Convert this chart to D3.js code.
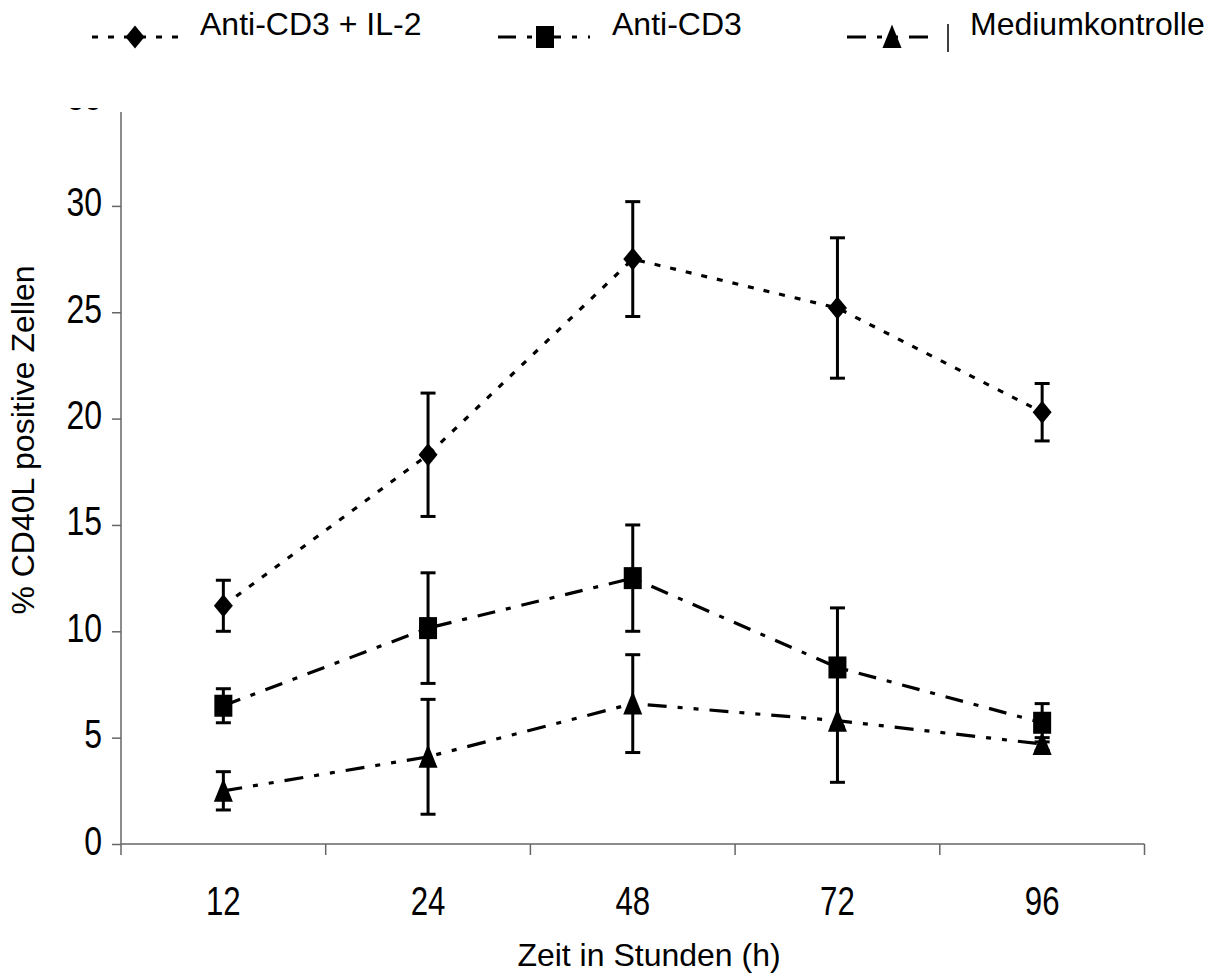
<!DOCTYPE html>
<html>
<head>
<meta charset="utf-8">
<script src="https://cdn.jsdelivr.net/npm/d3@7"></script>
<style>
  body { margin: 0; background: #fff; }
  text { font-family: "Liberation Sans", Arial, sans-serif; fill: #000; }
</style>
</head>
<body>
<div id="chart"></div>
<script>
// Daten
const zeiten = ["12", "24", "48", "72", "96"];
const il2Werte = [11.2, 18.3, 27.5, 25.2, 20.3];
const il2Fehler = [1.2, 2.9, 2.7, 3.3, 1.35];
const cd3Werte = [6.5, 10.15, 12.5, 8.3, 5.7];
const cd3Fehler = [0.8, 2.6, 2.5, 2.8, 0.9];
const mediumWerte = [2.5, 4.1, 6.6, 5.8, 4.7];
const mediumFehler = [0.9, 2.7, 2.3, 2.9, 0.3];
const yTicks = [0, 5, 10, 15, 20, 25, 30, 35];

const serien = [
  { name: "Anti-CD3 + IL-2", werte: il2Werte, fehler: il2Fehler, marker: "diamond", dash: "6,10" },
  { name: "Anti-CD3", werte: cd3Werte, fehler: cd3Fehler, marker: "square", dash: "18,11,5,11" },
  { name: "Mediumkontrolle", werte: mediumWerte, fehler: mediumFehler, marker: "triangle", dash: "19,11,5,11,5,11" }
];

const width = 1213, height = 979;
const left = 121, right = 1144.5, bottom = 844, axisTop = 112;

const svg = d3.select("#chart").append("svg")
  .attr("width", width)
  .attr("height", height);

const x = d3.scaleBand().domain(zeiten).range([left, right]).padding(0);
const y = d3.scaleLinear().domain([0, 35]).range([bottom, bottom - 35 * 21.27]);
const cx = d => x(d) + x.bandwidth() / 2;

// Clip für die abgeschnittene "35"
svg.append("defs").append("clipPath").attr("id", "oben")
  .append("rect").attr("x", 0).attr("y", 108).attr("width", width).attr("height", height);

function condense(sel, f) {
  sel.each(function () {
    const w = this.getComputedTextLength();
    d3.select(this).attr("textLength", w * f).attr("lengthAdjust", "spacingAndGlyphs");
  });
}

// y-Achse
const yAxis = svg.append("g")
  .attr("clip-path", "url(#oben)")
  .append("g")
  .attr("transform", `translate(${left},0)`)
  .call(d3.axisLeft(y).tickValues(yTicks).tickSize(9).tickPadding(10));
yAxis.select(".domain").remove();
yAxis.selectAll(".tick line").attr("stroke", "#666").attr("stroke-width", 1.5);
yAxis.selectAll(".tick text")
  .style("font-size", "40px")
  .attr("dy", "0.25em")
  .call(condense, 0.8);

svg.append("line")
  .attr("x1", left).attr("x2", left)
  .attr("y1", axisTop).attr("y2", bottom)
  .attr("stroke", "#666").attr("stroke-width", 1.5);

// x-Achse
svg.append("line")
  .attr("x1", left).attr("x2", right)
  .attr("y1", bottom).attr("y2", bottom)
  .attr("stroke", "#666").attr("stroke-width", 1.5);

const grenzen = zeiten.map(d => x(d)).concat([right]);
svg.selectAll(".xtick").data(grenzen).enter().append("line")
  .attr("x1", d => d).attr("x2", d => d)
  .attr("y1", bottom).attr("y2", bottom + 11)
  .attr("stroke", "#666").attr("stroke-width", 1.5);

svg.selectAll(".xlabel").data(zeiten).enter().append("text")
  .attr("x", cx)
  .attr("y", 915)
  .attr("text-anchor", "middle")
  .style("font-size", "40px")
  .text(d => d)
  .call(condense, 0.78);

// Achsentitel
svg.append("text")
  .attr("x", 649).attr("y", 966)
  .attr("text-anchor", "middle")
  .style("font-size", "32px")
  .text("Zeit in Stunden (h)");

svg.append("text")
  .attr("transform", "translate(34,440) rotate(-90)")
  .attr("text-anchor", "middle")
  .style("font-size", "32px")
  .text("% CD40L positive Zellen");

function marker(g, typ) {
  if (typ === "diamond") {
    g.append("path").attr("d", "M0,-11.5L9.5,0L0,11.5L-9.5,0Z");
  } else if (typ === "square") {
    g.append("rect").attr("x", -9).attr("y", -11).attr("width", 18).attr("height", 22);
  } else {
    g.append("path").attr("d", "M0,-12.5L9.5,11L-9.5,11Z");
  }
}

const line = d3.line().x(d => cx(d.t)).y(d => y(d.v));

serien.forEach(s => {
  const pts = zeiten.map((t, i) => ({ t, v: s.werte[i], e: s.fehler[i] }));
  const g = svg.append("g");

  // Fehlerbalken
  const eb = g.selectAll(".eb").data(pts).enter().append("g")
    .attr("stroke", "#000").attr("stroke-width", 3);
  eb.append("line")
    .attr("x1", d => cx(d.t)).attr("x2", d => cx(d.t))
    .attr("y1", d => y(d.v - d.e)).attr("y2", d => y(d.v + d.e));
  eb.append("line")
    .attr("x1", d => cx(d.t) - 7.5).attr("x2", d => cx(d.t) + 7.5)
    .attr("y1", d => y(d.v + d.e)).attr("y2", d => y(d.v + d.e));
  eb.append("line")
    .attr("x1", d => cx(d.t) - 7.5).attr("x2", d => cx(d.t) + 7.5)
    .attr("y1", d => y(d.v - d.e)).attr("y2", d => y(d.v - d.e));

  g.append("path").datum(pts)
    .attr("d", line)
    .attr("fill", "none")
    .attr("stroke", "#000")
    .attr("stroke-width", 3.2)
    .attr("stroke-dasharray", s.dash);

  g.selectAll(".m").data(pts).enter().append("g")
    .attr("transform", d => `translate(${cx(d.t)},${y(d.v)})`)
    .attr("fill", "#000")
    .each(function () { marker(d3.select(this), s.marker); });
});

// Legende
const legende = [
  { x1: 92, x2: 180, mx: 135, tx: 200 },
  { x1: 498, x2: 590, mx: 545, tx: 612 },
  { x1: 847, x2: 932, mx: 892, tx: 970 }
];
serien.forEach((s, i) => {
  const l = legende[i];
  const g = svg.append("g");
  g.append("line")
    .attr("x1", l.x1).attr("x2", l.x2).attr("y1", 37).attr("y2", 37)
    .attr("stroke", "#000").attr("stroke-width", 3.2)
    .attr("stroke-dasharray", s.dash);
  const m = g.append("g").attr("transform", `translate(${l.mx},37)`).attr("fill", "#000");
  marker(m, s.marker);
  g.append("text").attr("x", l.tx).attr("y", 35)
    .style("font-size", "32px")
    .text(s.name);
});
svg.append("line")
  .attr("x1", 948).attr("x2", 948).attr("y1", 24).attr("y2", 52)
  .attr("stroke", "#000").attr("stroke-width", 1.5);
</script>
</body>
</html>
